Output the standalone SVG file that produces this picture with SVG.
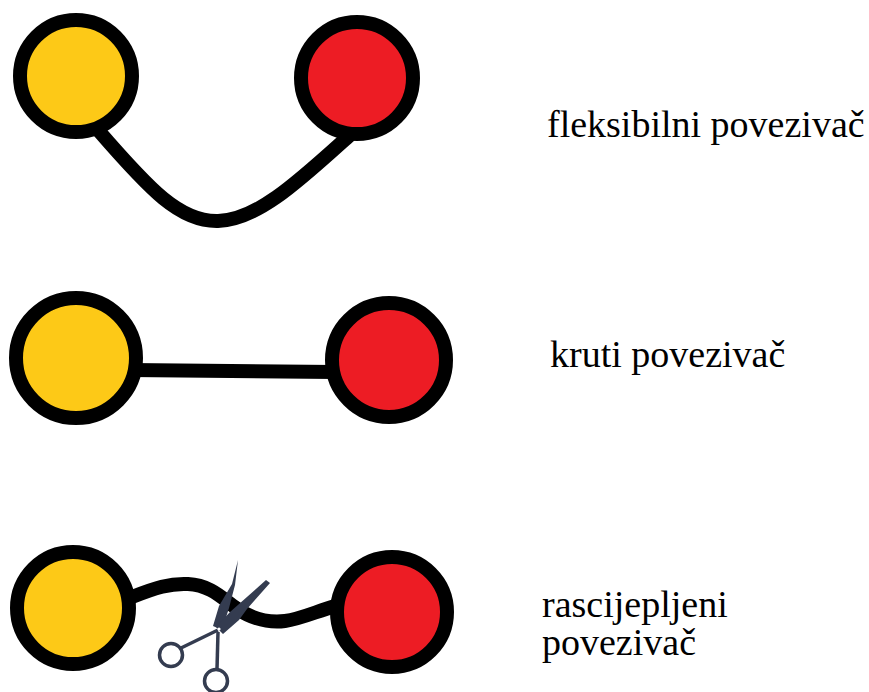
<svg xmlns="http://www.w3.org/2000/svg" width="869" height="692" viewBox="0 0 869 692">
<style>
.y{fill:#FDC917;stroke:#000;stroke-width:14}
.r{fill:#ED1C24;stroke:#000;stroke-width:14}
.ln{fill:none;stroke:#000;stroke-width:14;stroke-linecap:butt}
.t{font-family:"Liberation Serif","Times New Roman",serif;font-size:38px;fill:#000}
.sc{fill:#343c50}
.scl{fill:none;stroke:#343c50;stroke-width:3.5}
</style>
<rect width="869" height="692" fill="#fff"/>
<g id="connectors">
<path class="ln" d="M98,130 C150,190 180,222 218,221 C258,220 300,180 350,135"/>
<path class="ln" d="M130,370 L335,372"/>
<path class="ln" d="M132,597 C155,588 170,583 188,584 C210,585 222,598 236,608 C252,619 268,623 285,621 C300,619 315,612 335,606"/>
</g>
<g id="flex-yellow"><circle class="y" cx="76" cy="76" r="56"/></g>
<g id="flex-red"><circle class="r" cx="357" cy="78" r="56"/></g>
<g id="rigid-yellow"><circle class="y" cx="76" cy="358" r="60"/></g>
<g id="rigid-red"><circle class="r" cx="389" cy="360" r="57"/></g>
<g id="cleav-yellow"><circle class="y" cx="73" cy="608" r="56"/></g>
<g id="cleav-red"><circle class="r" cx="392" cy="612" r="55"/></g>
<g id="scissors">
<polygon class="sc" points="238,560 235,585 229,608 222,630 213,626 219,606 232,584"/>
<polygon class="sc" points="270,583 247,609 239,620 223,634 216,627 230,612 266,580"/>
<line class="scl" x1="218" y1="630" x2="181" y2="648"/>
<line class="scl" x1="218" y1="632" x2="217" y2="669"/>
<circle class="scl" cx="171" cy="655" r="11.5"/>
<circle class="scl" cx="216" cy="681" r="11.5"/>
<circle cx="219" cy="629" r="1.6" fill="#fff"/>
</g>
<g id="labels">
<text class="t" x="547" y="137">fleksibilni povezivač</text>
<text class="t" x="550" y="367">kruti povezivač</text>
<text class="t" x="542" y="617">rascijepljeni</text>
<text class="t" x="542" y="655">povezivač</text>
</g>
</svg>
